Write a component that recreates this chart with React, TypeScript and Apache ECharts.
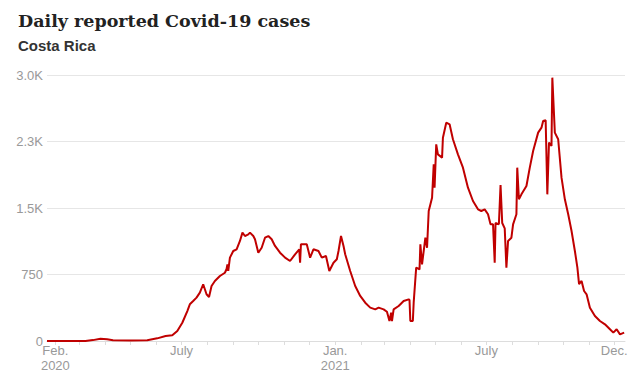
import React, { useEffect, useRef } from "react";
import * as echarts from "echarts";

// Day offsets counted from 2020-02-01
const dayOffsets = [
  -10, 36, 45, 54, 62, 69, 90, 110, 122, 132, 140, 146, 152, 158, 161, 165, 169, 173, 177, 181,
  184, 187, 191, 197, 203, 205, 206, 207, 209, 213, 217, 221, 224, 227, 231, 233, 237, 239, 243, 247,
  251, 255, 259, 263, 269, 275, 281, 287, 292, 293, 294, 301, 305, 309, 315, 319, 324, 328, 333, 337,
  339, 342, 345, 347, 353, 359, 365, 371, 377, 383, 387, 393, 397, 400, 402, 403, 405, 411, 417, 423,
  424, 425, 428, 429, 432, 436, 437, 439, 443, 445, 447, 451, 453, 454, 456, 458, 463, 464, 468, 472,
  476, 482, 488, 494, 500, 506, 510, 514, 518, 521, 524, 526, 527, 531, 533, 535, 538, 540, 542, 546,
  548, 552, 553, 555, 558, 564, 568, 572, 578, 582, 584, 587, 589, 591, 594, 595, 598, 602, 606, 610,
  614, 618, 622, 625, 627, 630, 633, 636, 640, 646, 652, 658, 664, 668, 672, 676, 681,
];

// Daily reported cases at those days
const cases = [
  0, 0, 10, 26, 20, 8, 5, 8, 30, 56, 64, 113, 206, 338, 414, 451, 489, 545, 640, 527,
  496, 620, 677, 733, 770, 812, 865, 790, 940, 1015, 1034, 1128, 1222, 1184, 1203, 1222, 1184, 1147, 996, 1052,
  1165, 1184, 1147, 1072, 996, 940, 902, 978, 1034, 883, 1090, 1090, 940, 1034, 1015, 940, 959, 790, 883, 922,
  1015, 1184, 1072, 978, 790, 620, 508, 432, 376, 357, 376, 357, 330, 225, 320, 225, 357, 395, 451, 470,
  462, 225, 225, 432, 827, 808, 1090, 865, 1165, 1052, 1466, 1616, 1993, 1729, 2218, 2105, 2068, 2293, 2462, 2444,
  2275, 2105, 1955, 1729, 1579, 1485, 1466, 1485, 1429, 1316, 1316, 883, 1331, 1316, 1760, 1331, 1270, 827, 1128, 1165,
  1316, 1429, 1955, 1598, 1654, 1748, 1955, 2143, 2350, 2406, 2481, 2490, 1654, 2237, 2200, 2970, 2350, 2275, 1842, 1598,
  1429, 1241, 1015, 827, 640, 677, 564, 527, 376, 282, 226, 188, 132, 94, 132, 75, 94,
];

// Month starts (day offsets from 2020-02-01) used for tick marks
const monthTicks = [0, 29, 60, 90, 121, 151, 182, 213, 243, 274, 304, 335, 366, 394, 425, 455, 486, 516, 547, 578, 608, 639, 669];
const labelDays = [0, 151, 335, 516, 669];
const labelTexts = ["Feb.\n2020", "July", "Jan.\n2021", "July", "Dec."];

export default function App() {
  const ref = useRef<HTMLDivElement>(null);
  useEffect(() => {
    document.body.style.margin = "0";
    if (!ref.current) return;
    const chart = echarts.init(ref.current, undefined, { renderer: "svg" });
    const labelMap: Record<number, string> = {};
    labelDays.forEach((d, i) => (labelMap[d] = labelTexts[i]));
    chart.setOption({
      animation: false,
      backgroundColor: "#ffffff",
      title: {
        left: 13,
        top: 7,
        text: "Daily reported Covid-19 cases",
        subtext: "Costa Rica",
        itemGap: 8,
        textStyle: {
          fontFamily: "DejaVu Serif",
          fontWeight: "bold",
          fontSize: 17.5,
          color: "#222",
        },
        subtextStyle: {
          fontFamily: "Liberation Sans, Arial",
          fontWeight: "bold",
          fontSize: 15,
          color: "#333",
        },
      },
      grid: { left: 47, right: 18, top: 75, bottom: 38 },
      xAxis: {
        type: "value",
        min: -10,
        max: 682,
        axisLine: { show: true, lineStyle: { color: "#dddddd", width: 1 } },
        axisTick: {
          show: true,
          length: 4,
          lineStyle: { color: "#dddddd" },
          customValues: monthTicks,
        },
        axisLabel: {
          customValues: labelDays,
          formatter: (v: number) => labelMap[v] ?? "",
          color: "#999",
          fontFamily: "Liberation Sans, Arial",
          fontSize: 13,
          lineHeight: 15,
          margin: 2,
        },
        splitLine: { show: false },
      },
      yAxis: {
        type: "value",
        min: 0,
        max: 3000,
        interval: 750,
        axisLine: { show: false },
        axisTick: { show: false },
        splitLine: { lineStyle: { color: "#e6e6e6", width: 1 } },
        axisLabel: {
          margin: 4,
          color: "#999",
          fontFamily: "Liberation Sans, Arial",
          fontSize: 13,
          formatter: (v: number) => (v >= 1000 ? (v / 1000).toFixed(1) + "K" : String(v)),
        },
      },
      series: [
        {
          type: "line",
          data: dayOffsets.map((d, i) => [d, cases[i]]),
          showSymbol: false,
          lineStyle: { color: "#c00000", width: 2 },
          itemStyle: { color: "#c00000" },
        },
      ],
    });
    return () => chart.dispose();
  }, []);
  return <div ref={ref} style={{ width: 643, height: 379 }} />;
}
